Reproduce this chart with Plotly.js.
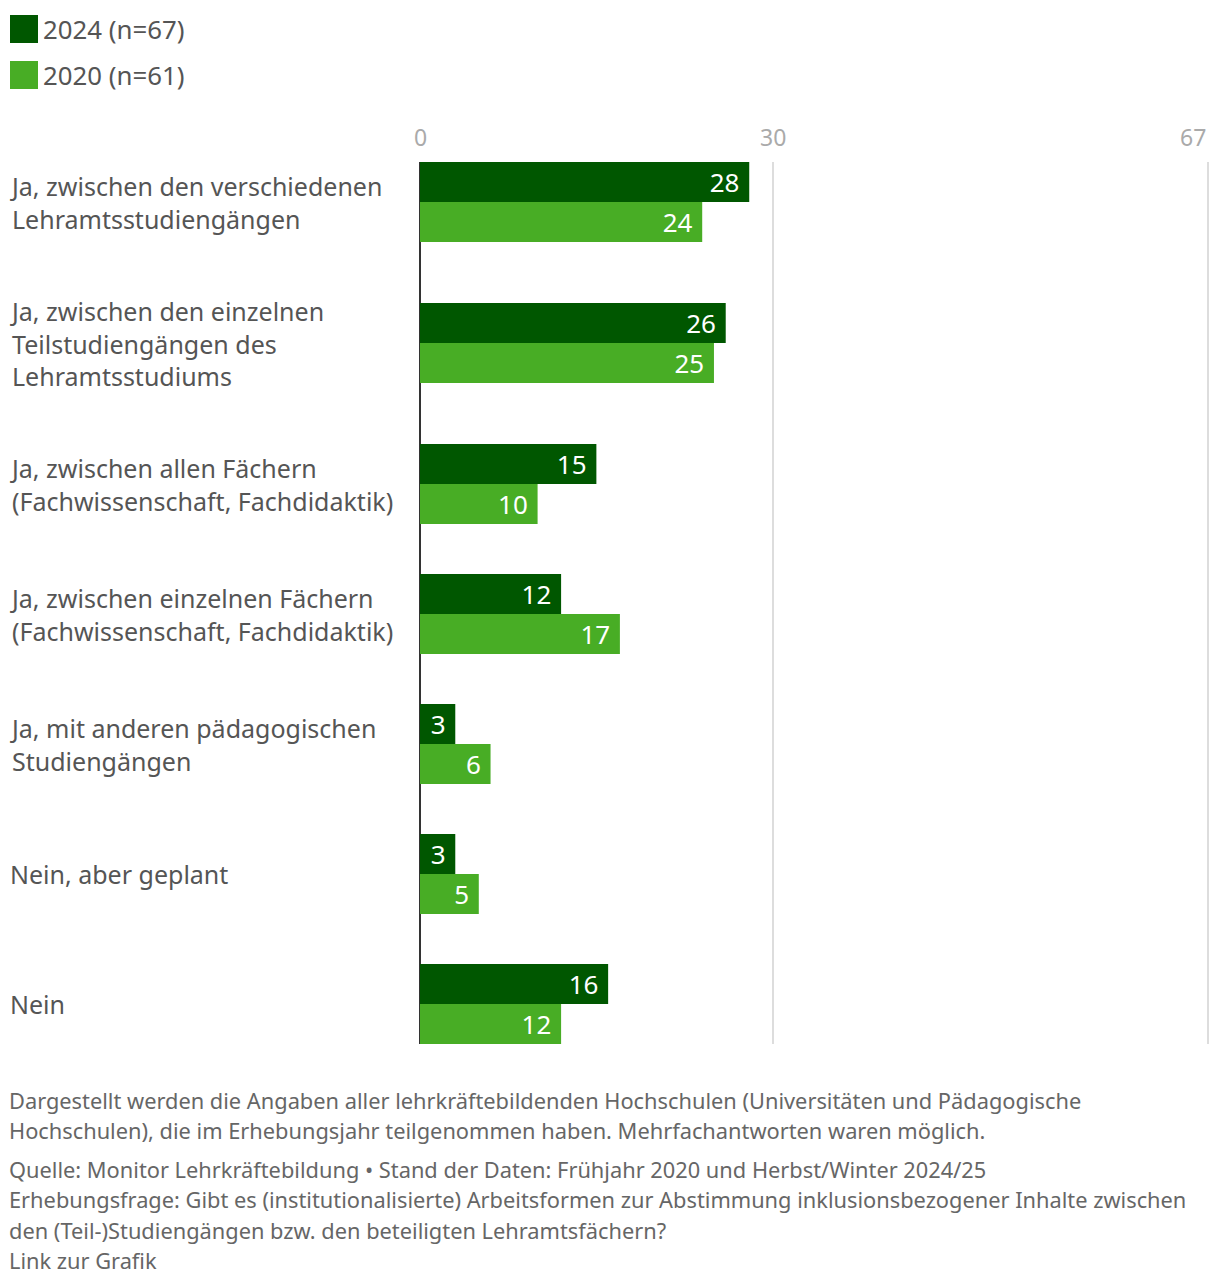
<!DOCTYPE html>
<html>
<head>
<meta charset="utf-8">
<script src="https://cdn.plot.ly/plotly-3.0.1.min.js"></script>
<style>
html,body{margin:0;padding:0;background:#fff;}
#chart{width:1220px;height:1284px;}
</style>
</head>
<body>
<div id="chart"></div>
<script>
const categories = [
  "Ja, zwischen den verschiedenen<br>Lehramtsstudiengängen",
  "Ja, zwischen den einzelnen<br>Teilstudiengängen des<br>Lehramtsstudiums",
  "Ja, zwischen allen Fächern<br>(Fachwissenschaft, Fachdidaktik)",
  "Ja, zwischen einzelnen Fächern<br>(Fachwissenschaft, Fachdidaktik)",
  "Ja, mit anderen pädagogischen<br>Studiengängen",
  "Nein, aber geplant",
  "Nein"
];
const values2024 = [28, 26, 15, 12, 3, 3, 16];
const values2020 = [24, 25, 10, 17, 6, 5, 12];
const seriesNames = ["2024 (n=67)", "2020 (n=61)"];
const seriesColors = ["#005700", "#48ad25"];
const tickValues = [0, 30, 67];
const tickLabels = ["0", "30", "67"];
const footerLines = [
  "Dargestellt werden die Angaben aller lehrkräftebildenden Hochschulen (Universitäten und Pädagogische",
  "Hochschulen), die im Erhebungsjahr teilgenommen haben. Mehrfachantworten waren möglich.",
  "Quelle: Monitor Lehrkräftebildung • Stand der Daten: Frühjahr 2020 und Herbst/Winter 2024/25",
  "Erhebungsfrage: Gibt es (institutionalisierte) Arbeitsformen zur Abstimmung inklusionsbezogener Inhalte zwischen",
  "den (Teil-)Studiengängen bzw. den beteiligten Lehramtsfächern?",
  "Link zur Grafik"
];

const W = 1220, H = 1284;
const M = {l: 420, r: 11, t: 162, b: 240};
const PW = W - M.l - M.r, PH = H - M.t - M.b;
const px = x => (x - M.l) / PW;
const py = y => (H - M.b - y) / PH;

const FONT = "Noto Sans, Open Sans, sans-serif";
const TEXT = "#555555";

// Row layout (like the original): each row is as tall as its bars (80px) or its label,
// whichever is larger, with a fixed gap between rows.
const BAR_GROUP = 80, LINE_H = 34, ROW_GAP = 50;
const rowH = categories.map(c => Math.max(BAR_GROUP, c.split("<br>").length * LINE_H));
const rowPos = [];
rowH.forEach((h, i) => {
  rowPos.push(i === 0 ? 0 : rowPos[i - 1] + rowH[i - 1] / 2 + ROW_GAP + h / 2);
});
const minStep = Math.min(...rowPos.slice(1).map((p, i) => p - rowPos[i]));

const seriesValues = [values2024, values2020];
const traces = seriesValues.map((vals, i) => ({
  type: "bar",
  orientation: "h",
  name: seriesNames[i],
  y: rowPos,
  x: vals,
  marker: {color: seriesColors[i], line: {width: 0}},
  text: vals.map(v => String(v) + "\u00a0"),
  textposition: "inside",
  insidetextanchor: "end",
  textangle: 0,
  constraintext: "none",
  textfont: {color: "#ffffff", size: 26, family: FONT},
  hoverinfo: "skip"
}));

const annotations = [];
categories.forEach((c, i) => annotations.push({
  xref: "paper", yref: "y", x: px(8), y: rowPos[i], xanchor: "left", yanchor: "middle",
  align: "left", text: c, showarrow: false,
  font: {size: 25, color: TEXT, family: FONT}
}));
tickValues.forEach((v, i) => annotations.push({
  xref: "x", yref: "paper", x: v, y: py(137),
  xanchor: i === tickValues.length - 1 ? "right" : "center", yanchor: "middle",
  text: tickLabels[i], showarrow: false,
  font: {size: 23, color: "#aaaaaa", family: FONT}
}));
const legendY = [29, 75];
const shapes = [];
seriesNames.forEach((n, i) => {
  shapes.push({
    type: "rect", xref: "paper", yref: "paper",
    x0: px(10), x1: px(38), y0: py(legendY[i] - 14), y1: py(legendY[i] + 14),
    fillcolor: seriesColors[i], line: {width: 0}
  });
  annotations.push({
    xref: "paper", yref: "paper", x: px(41), y: py(legendY[i]),
    xanchor: "left", yanchor: "middle", text: n, showarrow: false,
    font: {size: 25.8, color: TEXT, family: FONT}
  });
});
const footerY = [1100, 1130, 1169, 1199, 1230, 1260];
footerLines.forEach((t, i) => annotations.push({
  xref: "paper", yref: "paper", x: px(7), y: py(footerY[i]),
  xanchor: "left", yanchor: "middle", text: t, showarrow: false,
  font: {size: 21.8, color: "#666666", family: FONT}
}));

const half = BAR_GROUP / 2;
const layout = {
  width: W, height: H,
  margin: M,
  paper_bgcolor: "#ffffff", plot_bgcolor: "#ffffff",
  barmode: "group", bargap: 1 - BAR_GROUP / minStep, bargroupgap: 0,
  showlegend: false,
  font: {family: FONT, color: TEXT},
  xaxis: {
    range: [0, 67.1], tickvals: tickValues, showticklabels: false,
    showgrid: true, gridcolor: "#dddddd", gridwidth: 1.5,
    zeroline: true, zerolinecolor: "#333333", zerolinewidth: 2,
    showline: false, fixedrange: true
  },
  yaxis: {
    type: "linear", range: [rowPos[rowPos.length - 1] + half, rowPos[0] - half],
    showticklabels: false, showgrid: false, zeroline: false, showline: false,
    fixedrange: true
  },
  annotations: annotations,
  shapes: shapes
};

Plotly.newPlot("chart", traces, layout, {displayModeBar: false, staticPlot: true});
</script>
</body>
</html>
